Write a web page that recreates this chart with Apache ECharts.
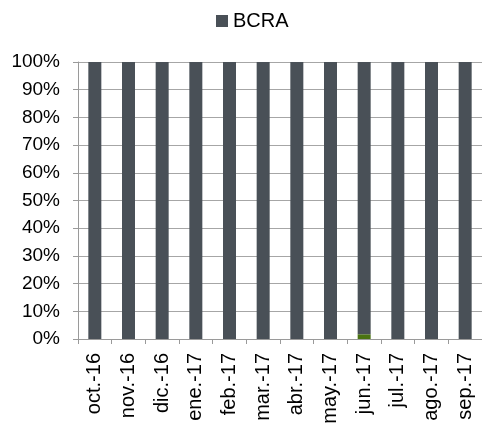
<!DOCTYPE html>
<html>
<head>
<meta charset="utf-8">
<script src="https://cdn.jsdelivr.net/npm/echarts@6/dist/echarts.min.js"></script>
<style>
html, body { margin: 0; padding: 0; background: #fff; }
#chart { width: 482px; height: 427px; }
</style>
</head>
<body>
<div id="chart"></div>
<script>
var months = ['oct.-16', 'nov.-16', 'dic.-16', 'ene.-17', 'feb.-17', 'mar.-17',
	'abr.-17', 'may.-17', 'jun.-17', 'jul.-17', 'ago.-17', 'sep.-17'];
// share of the small (unlabelled) part, drawn at the bottom
var otros = [0, 0, 0, 0, 0, 0, 0, 0, 1.7, 0, 0, 0];
var bcra = [100, 100, 100, 100, 100, 100, 100, 100, 98.3, 100, 100, 100];
var yTicks = [0, 10, 20, 30, 40, 50, 60, 70, 80, 90, 100];

var font = 'Liberation Sans, Arial, sans-serif';

var option = {
	animation: false,
	backgroundColor: '#fff',
	legend: {
		data: ['BCRA'],
		top: 6,
		left: 211,
		itemWidth: 12,
		itemHeight: 12,
		itemGap: 4,
		icon: 'rect',
		textStyle: { fontFamily: font, fontSize: 20, color: '#000', padding: [0, 0, 0, 0] }
	},
	grid: { left: 78, right: -4, top: 62, bottom: 88, containLabel: false },
	xAxis: {
		type: 'category',
		data: months,
		axisLine: { lineStyle: { color: '#9a9a9a', width: 1 } },
		axisTick: { show: true, length: 5, lineStyle: { color: '#9a9a9a' } },
		axisLabel: {
			rotate: 90,
			margin: 14,
			fontFamily: font,
			fontSize: 20,
			color: '#000',
			interval: 0
		}
	},
	yAxis: {
		type: 'value',
		min: yTicks[0],
		max: yTicks[yTicks.length - 1],
		interval: 10,
		axisLine: { show: true, lineStyle: { color: '#9a9a9a' } },
		axisTick: { show: true, length: 5, lineStyle: { color: '#9a9a9a' } },
		splitLine: { lineStyle: { color: '#a6a6a6', width: 1 } },
		axisLabel: {
			margin: 18,
			fontFamily: font,
			fontSize: 19,
			color: '#000',
			formatter: '{value}%'
		}
	},
	series: [
		{
			name: 'Otros',
			type: 'bar',
			stack: 'total',
			data: otros,
			barWidth: 13,
			itemStyle: { color: '#4a7311' }
		},
		{
			name: 'BCRA',
			type: 'bar',
			stack: 'total',
			data: bcra,
			barWidth: 13,
			itemStyle: { color: '#495057' }
		}
	]
};

echarts.init(document.getElementById('chart')).setOption(option);
</script>
</body>
</html>
